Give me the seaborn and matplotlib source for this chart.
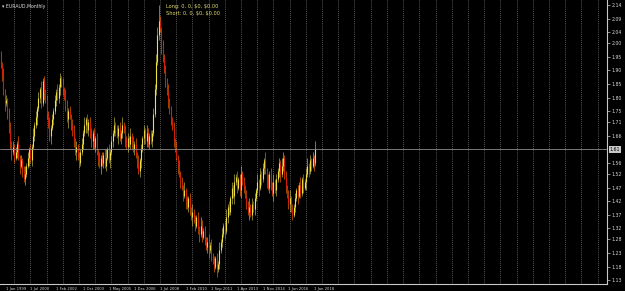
import numpy as np
import pandas as pd
import matplotlib
matplotlib.use("Agg")
import matplotlib.pyplot as plt
import seaborn as sns

# ---------------- data (monthly bars) ----------------
first_open = 1.95
closes = [
    1.92, 1.88, 1.82, 1.78,
    1.79,
    1.74, 1.68, 1.63, 1.60, 1.62, 1.58,
    1.60, 1.63, 1.58, 1.55, 1.57, 1.53,
    1.50, 1.52, 1.55, 1.58, 1.61, 1.57,
    1.62, 1.66, 1.70, 1.73, 1.76,
    1.80, 1.83, 1.78, 1.86, 1.82,
    1.79, 1.74, 1.70, 1.66, 1.69, 1.72,
    1.75, 1.79, 1.82, 1.80, 1.84, 1.87, 1.85,
    1.83, 1.80, 1.77, 1.72, 1.75, 1.73, 1.70,
    1.67, 1.64, 1.60, 1.62, 1.58, 1.56, 1.60,
    1.63, 1.67, 1.70, 1.72, 1.68, 1.71, 1.66,
    1.64, 1.67, 1.62, 1.65, 1.60, 1.57, 1.55, 1.58,
    1.56, 1.59, 1.55, 1.58, 1.61, 1.57, 1.60,
    1.64, 1.67, 1.70, 1.68, 1.66, 1.69, 1.65, 1.67, 1.70, 1.68, 1.65,
    1.62, 1.65, 1.63, 1.66, 1.64, 1.61, 1.63,
    1.59, 1.56, 1.53, 1.57,
    1.61, 1.65, 1.68, 1.64, 1.67, 1.63, 1.66,
    1.64, 1.67,
    1.74, 1.83, 1.93, 2.03, 2.08,
    2.05, 1.99, 1.95, 1.90, 1.86, 1.82, 1.79, 1.75, 1.72, 1.69, 1.64, 1.61,
    1.58, 1.55, 1.52, 1.49, 1.47, 1.44, 1.46, 1.42,
    1.40, 1.43, 1.39, 1.36, 1.38, 1.35, 1.33, 1.36, 1.32, 1.30, 1.33,
    1.29, 1.31, 1.28, 1.25, 1.27, 1.24, 1.26, 1.22,
    1.20, 1.18, 1.21, 1.17, 1.19, 1.24,
    1.27, 1.30, 1.33, 1.31, 1.36, 1.40, 1.38, 1.43, 1.47, 1.44, 1.49,
    1.51, 1.47, 1.50, 1.46, 1.52, 1.49, 1.47,
    1.44, 1.41, 1.38, 1.40, 1.37, 1.41, 1.39, 1.43,
    1.46, 1.49, 1.47, 1.52, 1.50, 1.54, 1.57, 1.53,
    1.50, 1.47, 1.52, 1.48, 1.45, 1.49, 1.46, 1.50,
    1.53, 1.56, 1.52, 1.55, 1.58, 1.51,
    1.47, 1.44, 1.41, 1.43, 1.39, 1.37, 1.40,
    1.43, 1.46, 1.44, 1.48, 1.45, 1.50, 1.47, 1.49,
    1.52, 1.55, 1.53, 1.57, 1.55, 1.58, 1.56, 1.61,
]
# wick lengths in hundredths (upper / lower), one digit per bar
upper_wicks = [int(c) for c in (
    "2131212312" "1213121231" "2121312121" "3121213121" "2131212132"
    "1212312121" "2131212312" "1213121231" "2121312121" "3121213121"
    "2131212132" "1212233621" "2121312121" "3121213121" "2131212132"
    "1212312121" "2131212312" "1213121231" "2121312121" "3121213121"
    "2131212132" "1212312121" "2131212312" "1213")]
lower_wicks = [int(c) for c in (
    "1213121231" "2121312121" "1312121312" "2131212312" "1212312121"
    "3121213121" "1213121231" "2121312121" "1312121312" "2131212312"
    "1212312121" "2121121213" "2121312121" "1312121312" "2131212312"
    "1212312121" "3121213121" "1213121231" "2121312121" "1312121312"
    "2131212312" "1212312121" "3121213121" "2131")]

date_labels = ["1 Jan 1999", "1 Jul 2000", "1 Feb 2002", "1 Oct 2003", "1 May 2005",
               "1 Dec 2006", "1 Jul 2008", "1 Feb 2010", "1 Sep 2011", "1 Apr 2013",
               "1 Nov 2014", "1 Jun 2016", "1 Jan 2018"]
date_label_bars = [4, 22, 41, 61, 80, 99, 118, 137, 156, 175, 194, 213, 232]
price_ticks = [2.14, 2.09, 2.04, 2.00, 1.95, 1.90, 1.85, 1.80, 1.75, 1.71, 1.66,
               1.56, 1.52, 1.47, 1.42, 1.37, 1.32, 1.28, 1.23, 1.18, 1.13]
grid_bars = list(range(10, 450, 12))

# ---------------- frame ----------------
n = len(closes)
df = pd.DataFrame({"bar": np.arange(n), "close": closes})
df["open"] = [first_open] + closes[:-1]
df["high"] = df[["open", "close"]].max(axis=1) + np.array(upper_wicks[:n]) / 100
df["low"] = df[["open", "close"]].min(axis=1) - np.array(lower_wicks[:n]) / 100
df["bull"] = df["close"] >= df["open"]

sns.set_theme(style="dark")
plt.rcParams["font.family"] = ["DejaVu Sans"]

fig = plt.figure(figsize=(6.25, 2.91), dpi=100, facecolor="black")
ax = fig.add_axes([0.0, 1 - 284 / 291, 607 / 625, 284 / 291])
ax.set_facecolor("black")

ymin, ymax = 1.116, 2.158
ax.set_ylim(ymin, ymax)
ax.set_xlim(-0.5, 449)

# vertical dotted grid
ax.vlines(grid_bars, ymin, ymax, colors="#a8a8a8", linestyles=(0, (1, 2)), lw=0.5, zorder=1)

# candles
bull_body, bear_body = "#eee040", "#d41c04"
bull_wick, bear_wick = "#c8c048", "#ff6a00"
ax.vlines(df["bar"], df["low"], df["high"],
          colors=np.where(df["bull"], bull_wick, bear_wick), lw=0.45, zorder=2)
body_lo = df[["open", "close"]].min(axis=1)
body_hi = df[["open", "close"]].max(axis=1)
ax.vlines(df["bar"], body_lo, body_hi,
          colors=np.where(df["bull"], bull_body, bear_body), lw=0.8, zorder=3)

# current price line
last = closes[-1]
ax.axhline(last, color="#8a8a8a", lw=0.6, zorder=4)

# spines / ticks
for s in ["left", "top"]:
    ax.spines[s].set_visible(False)
for s in ["right", "bottom"]:
    ax.spines[s].set_visible(True)
    ax.spines[s].set_color("#c8c8c8")
    ax.spines[s].set_linewidth(0.8)

ax.yaxis.tick_right()
ax.set_yticks(price_ticks)
ax.set_yticklabels([f"{v:.2f}" for v in price_ticks])
ax.set_xticks(date_label_bars)
ax.set_xticklabels(date_labels, ha="left")
ax.tick_params(axis="y", colors="#c8c8c8", labelcolor="#d8d8d8",
               labelsize=3.3, length=2, width=0.5, pad=1)
ax.tick_params(axis="x", colors="#c8c8c8", labelcolor="#d8d8d8",
               labelsize=2.7, length=1.5, width=0.5, pad=0.4)
ax.grid(False)
ax.set_xlabel("")
ax.set_ylabel("")

# current price box
ax.text(1.004, last, f"{last:.2f}", transform=ax.get_yaxis_transform(),
        fontsize=3.3, color="black", va="center", ha="left",
        bbox=dict(boxstyle="square,pad=0.15", fc="#c8c8c8", ec="none"), clip_on=False)

# captions
ax.text(0.004, 0.987, "\u25be EURAUD,Monthly", transform=ax.transAxes,
        fontsize=3.3, color="#e0e0e0", va="top", ha="left")
ax.text(0.273, 0.987, "Long: 0, 0, \\$0, \\$0.00", transform=ax.transAxes,
        fontsize=3.6, color="#e8e070", va="top", ha="left")
ax.text(0.273, 0.960, "Short: 0, 0, \\$0, \\$0.00", transform=ax.transAxes,
        fontsize=3.6, color="#e8e070", va="top", ha="left")

fig.savefig("out.png", dpi=100, facecolor="black")
